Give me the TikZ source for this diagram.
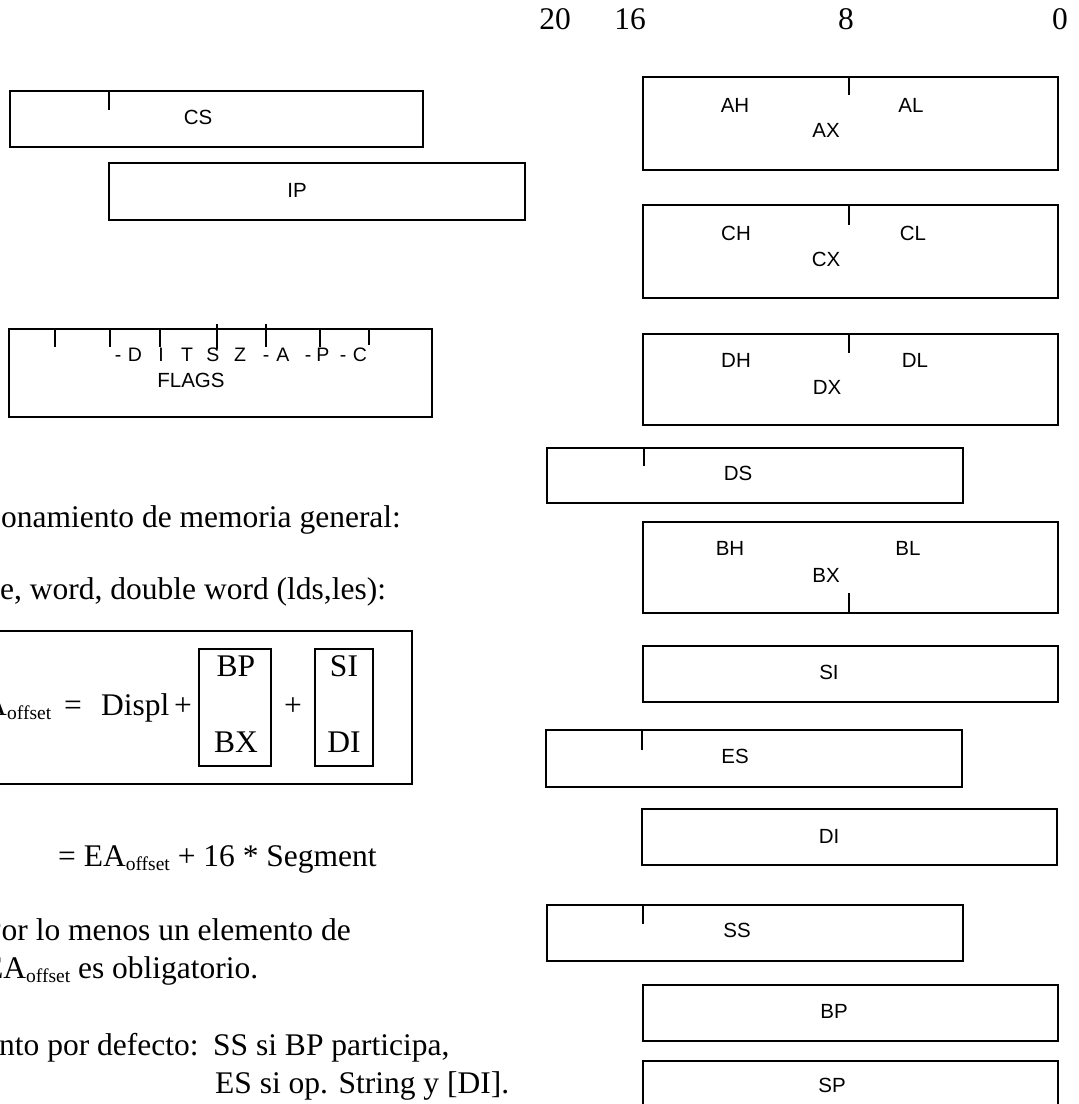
\documentclass[tikz,border=0pt]{standalone}
\usepackage{fontspec}
\setmainfont{Liberation Serif}
\setsansfont{Liberation Sans}
\begin{document}
\begin{tikzpicture}[x=1pt,y=-1pt,
  reg/.style={draw,line width=1.7pt},
  tickline/.style={line width=1.5pt},
  lab/.style={font=\fontsize{20.5}{20}\selectfont\sffamily,inner sep=0pt,anchor=center},
  flagch/.style={font=\fontsize{19.5}{18}\selectfont\sffamily,inner sep=0pt,anchor=base},
  txt/.style={font=\fontsize{31.5}{36}\selectfont,inner sep=0pt,anchor=base west},
  ctxt/.style={font=\fontsize{31.5}{36}\selectfont,inner sep=0pt,anchor=base},
  sub/.style={font=\fontsize{19.5}{20}\selectfont,inner sep=0pt,anchor=base west}]
\fill[white] (0,0) rectangle (1079,1104);
\clip (0,0) rectangle (1079,1104);
\useasboundingbox (0,0) rectangle (1079,1104);

% bit numbers
\node[ctxt] (n20) at (555,29) {20};
\node[ctxt] (n16) at (630,29) {16};
\node[ctxt] (n8) at (846,29) {8};
\node[ctxt] (n0) at (1060,29) {0};

% ---------- left column ----------
\draw[reg] (10,91) rectangle (423,147);
\draw[tickline] (109,91) -- (109,110);
\node[lab] (cs) at (198,117) {CS};

\draw[reg] (109,163) rectangle (525,220);
\node[lab] (ip) at (297,190) {IP};

\draw[reg] (9,329) rectangle (432,417);
\foreach \x/\a/\b in {55/329/347,110/329/347,160/329/347,217/324/349,266/324/347,320/329/347,369/329/345}
  \draw[tickline] (\x,\a) -- (\x,\b);
\foreach \x/\c [count=\i] in {118/-,135/D,161/I,187/T,213/S,240/Z,266/-,283/A,308/-,323/P,343/-,360/C}
  \node[flagch] (f\i) at (\x,361) {\c};
\node[lab] (flags) at (191,380) {FLAGS};

% ---------- text ----------
\node[txt] (t1) at (1,527) {onamiento de memoria general:};
\node[txt] (t2) at (0,599) {e, word, double word (lds,les):};

% formula box
\draw[reg] (-10,631) -- (412,631) -- (412,784) -- (-10,784);
\node[txt,anchor=base east] (fa) at (7,715) {A};
\node[sub] (fsub) at (7,719) {offset};
\node[ctxt] (feq) at (73,715) {=};
\node[txt] (fdispl) at (101,715) {Displ};
\node[ctxt] (fplus1) at (183,715) {+};
\draw[line width=1.5pt] (199,649) rectangle (271,766);
\node[ctxt] (fbp) at (236,676) {BP};
\node[ctxt] (fbx) at (236,752) {BX};
\node[ctxt] (fplus2) at (293,715) {+};
\draw[line width=1.5pt] (315,649) rectangle (373,766);
\node[ctxt] (fsi) at (344,676) {SI};
\node[ctxt] (fdi) at (344,752) {DI};

\node[txt] (t3) at (58,866) {= EA\raisebox{-4pt}{\fontsize{19.5}{20}\selectfont offset} + 16 * Segment};
\node[txt] (t4) at (-16,940) {Por lo menos un elemento de};
\node[txt] (t5) at (-16,978) {EA\raisebox{-4pt}{\fontsize{19.5}{20}\selectfont offset} es obligatorio.};
\node[txt] (t6) at (-1,1055) {nto por defecto:};
\node[txt] (t7) at (213,1055) {SS si BP participa,};
\node[txt] (t8) at (215,1093) {ES si op. String y [DI].};

% ---------- right column ----------
\draw[reg] (643,77) rectangle (1058,170);
\draw[tickline] (849,77) -- (849,95);
\node[lab] (ah) at (735,105) {AH};
\node[lab] (al) at (911,105) {AL};
\node[lab] (ax) at (826,130) {AX};

\draw[reg] (643,205) rectangle (1058,298);
\draw[tickline] (849,205) -- (849,225);
\node[lab] (ch) at (736,233) {CH};
\node[lab] (cl) at (913,233) {CL};
\node[lab] (cx) at (826,259) {CX};

\draw[reg] (643,334) rectangle (1058,425);
\draw[tickline] (849,334) -- (849,353);
\node[lab] (dh) at (736,360) {DH};
\node[lab] (dl) at (915,360) {DL};
\node[lab] (dx) at (827,387) {DX};

\draw[reg] (547,448) rectangle (963,503);
\draw[tickline] (644,448) -- (644,466);
\node[lab] (ds) at (738,473) {DS};

\draw[reg] (643,522) rectangle (1058,613);
\draw[tickline] (849,593) -- (849,613);
\node[lab] (bh) at (730,548) {BH};
\node[lab] (bl) at (908,548) {BL};
\node[lab] (bx) at (826,575) {BX};

\draw[reg] (643,646) rectangle (1058,702);
\node[lab] (si) at (829,672) {SI};

\draw[reg] (546,730) rectangle (962,787);
\draw[tickline] (642,730) -- (642,750);
\node[lab] (es) at (735,756) {ES};

\draw[reg] (642,809) rectangle (1057,865);
\node[lab] (di) at (829,836) {DI};

\draw[reg] (547,905) rectangle (963,961);
\draw[tickline] (643,905) -- (643,924);
\node[lab] (ss) at (737,930) {SS};

\draw[reg] (643,985) rectangle (1058,1041);
\node[lab] (bp) at (834,1011) {BP};

\draw[reg] (643,1061) rectangle (1058,1130);
\node[lab] (sp) at (832,1085) {SP};
\end{tikzpicture}
\end{document}
